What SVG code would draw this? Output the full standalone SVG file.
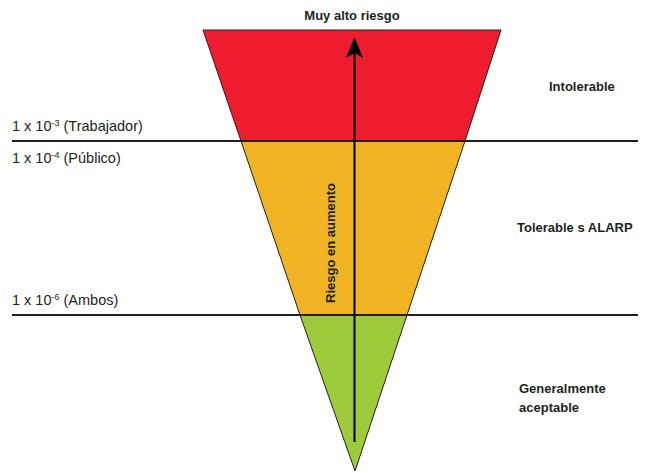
<svg xmlns="http://www.w3.org/2000/svg" width="646" height="473" viewBox="0 0 646 473">
<style>
.lbl{font-family:"Liberation Sans",Arial,sans-serif;font-size:14.5px;fill:#231f20}
.b{font-family:"Liberation Sans",Arial,sans-serif;font-size:13px;font-weight:bold;fill:#231f20}
.sup{font-size:9px}
.edge{stroke:#231f20;stroke-width:1}
.lvl{stroke:#231f20;stroke-width:2}
</style>
<g id="zone-red"><polygon points="203,30 501,30 465,141 241,141" fill="#ED1C2E" class="edge"/></g>
<g id="zone-yellow"><polygon points="241,141 465,141 407,315 300,315" fill="#F0B323" class="edge"/></g>
<g id="zone-green"><polygon points="300,315 407,315 355,471" fill="#9ECB3C" class="edge"/></g>
<g id="connectors">
<line x1="12" y1="141" x2="638" y2="141" class="lvl"/>
<line x1="12" y1="315" x2="638" y2="315" class="lvl"/>
<line x1="354.5" y1="442" x2="354.5" y2="50" stroke="#000" stroke-width="2"/>
<path d="M354.5 37 L363 58 L354.5 53 L346 58 Z" fill="#000"/>
</g>
<g id="labels">
<text x="352" y="20" text-anchor="middle" class="b">Muy alto riesgo</text>
<text x="549" y="91" class="b">Intolerable</text>
<text x="517" y="232" class="b">Tolerable s ALARP</text>
<text x="519" y="393" class="b">Generalmente</text>
<text x="519" y="412" class="b">aceptable</text>
<text x="12" y="131" class="lbl">1 x 10<tspan class="sup" dy="-5">-3</tspan><tspan dy="5"> (Trabajador)</tspan></text>
<text x="12" y="163" class="lbl">1 x 10<tspan class="sup" dy="-5">-4</tspan><tspan dy="5"> (Público)</tspan></text>
<text x="12" y="305" class="lbl">1 x 10<tspan class="sup" dy="-5">-6</tspan><tspan dy="5"> (Ambos)</tspan></text>
<text transform="translate(335,243) rotate(-90)" text-anchor="middle" class="b">Riesgo en aumento</text>
</g>
</svg>
